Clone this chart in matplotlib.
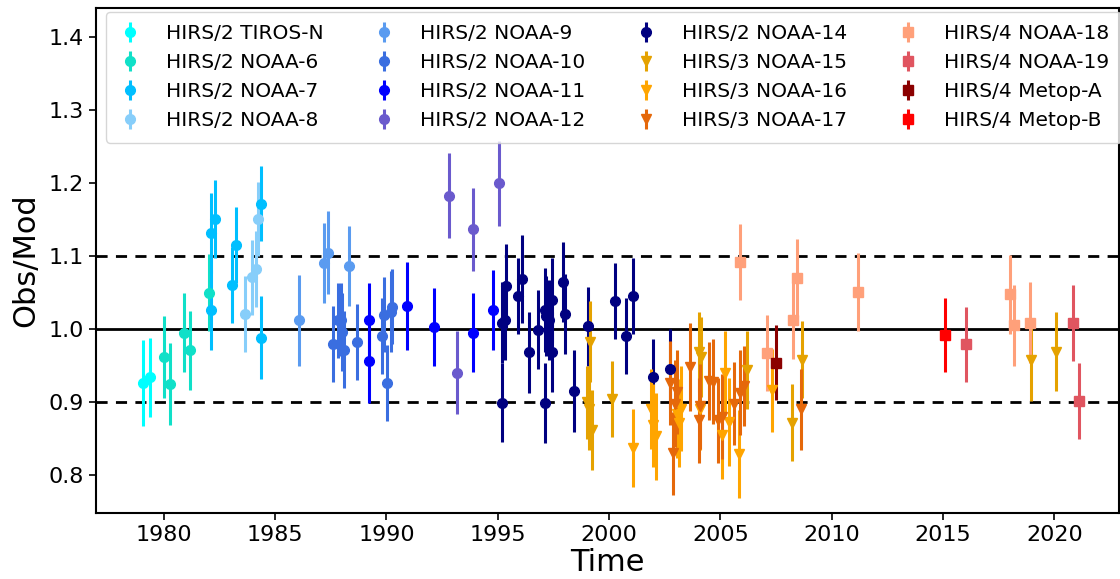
import matplotlib
matplotlib.use("Agg")
import matplotlib.pyplot as plt

# ---------------- data ----------------
tiros_x = [1979.04, 1979.37]
tiros_y = [0.926, 0.934]
tiros_e = [0.059, 0.054]

n6_x = [1980.0, 1980.27, 1980.9, 1981.17, 1982.03]
n6_y = [0.962, 0.925, 0.995, 0.971, 1.050]
n6_e = [0.056, 0.056, 0.054, 0.054, 0.053]

n7_x = [1982.1, 1982.28, 1982.1, 1983.07, 1983.25, 1984.37, 1984.37]
n7_y = [1.132, 1.151, 1.026, 1.061, 1.115, 1.172, 0.988]
n7_e = [0.055, 0.053, 0.055, 0.052, 0.052, 0.051, 0.057]

n8_x = [1983.65, 1983.98, 1984.16, 1984.22]
n8_y = [1.021, 1.071, 1.082, 1.151]
n8_e = [0.052, 0.051, 0.052, 0.051]

n9_x = [1986.06, 1987.2, 1987.36, 1988.32]
n9_y = [1.012, 1.091, 1.105, 1.087]
n9_e = [0.062, 0.055, 0.057, 0.055]

n10_x = [1987.6, 1987.8, 1987.95, 1988.0, 1988.1, 1988.67, 1989.78, 1989.9, 1990.03, 1990.2, 1990.24]
n10_y = [0.980, 1.012, 1.013, 0.996, 0.972, 0.982, 0.990, 1.020, 0.926, 1.024, 1.031]
n10_e = [0.052, 0.051, 0.050, 0.053, 0.053, 0.052, 0.052, 0.051, 0.052, 0.055, 0.052]

n11_x = [1989.2, 1989.2, 1990.9, 1992.12, 1993.89, 1994.79]
n11_y = [1.013, 0.957, 1.032, 1.003, 0.995, 1.026]
n11_e = [0.050, 0.058, 0.060, 0.054, 0.054, 0.055]

n12_x = [1992.8, 1993.18, 1993.9, 1995.04]
n12_y = [1.183, 0.940, 1.137, 1.200]
n12_e = [0.058, 0.057, 0.057, 0.058]

n14_x = [1995.19, 1995.19, 1995.34, 1995.36, 1995.91, 1996.09, 1996.39, 1996.81, 1997.12, 1997.12,
         1997.15, 1997.29, 1997.44, 1997.44, 1997.93, 1998.02, 1998.43, 1999.06, 2000.28, 2000.76,
         2001.09, 2001.97, 2002.72]
n14_y = [0.899, 1.009, 1.012, 1.059, 1.046, 1.069, 0.968, 0.999, 0.899, 1.026,
         1.018, 1.013, 1.040, 0.969, 1.065, 1.021, 0.915, 1.004, 1.038, 0.990,
         1.046, 0.934, 0.945]
n14_e = [0.054, 0.055, 0.054, 0.057, 0.052, 0.060, 0.055, 0.054, 0.055, 0.058,
         0.055, 0.055, 0.058, 0.055, 0.055, 0.055, 0.056, 0.054, 0.052, 0.052,
         0.052, 0.052, 0.055]

n15_x = [1999.15, 1999.0, 1999.08, 1999.24, 2000.13, 2004.04, 2004.15, 2006.2, 2008.21, 2008.68, 2018.96, 2020.08]
n15_y = [0.983, 0.900, 0.890, 0.862, 0.904, 0.969, 0.962, 0.944, 0.872, 0.958, 0.958, 0.969]
n15_e = [0.055, 0.050, 0.055, 0.055, 0.052, 0.055, 0.055, 0.054, 0.053, 0.053, 0.057, 0.054]

n16_x = [2001.07, 2001.87, 2001.97, 2002.12, 2003.14, 2003.24, 2003.05, 2004.08, 2005.05, 2005.22, 2005.38, 2005.82, 2007.31]
n16_y = [0.837, 0.891, 0.868, 0.853, 0.871, 0.891, 0.883, 0.890, 0.855, 0.940, 0.873, 0.829, 0.916]
n16_e = [0.054, 0.055, 0.057, 0.060, 0.060, 0.058, 0.060, 0.055, 0.060, 0.058, 0.060, 0.060, 0.057]

n17_x = [2002.72, 2002.89, 2002.95, 2003.03, 2003.62, 2004.04, 2004.08, 2004.5, 2004.68, 2004.9, 2005.05, 2005.63, 2005.87, 2006.05, 2008.63]
n17_y = [0.926, 0.830, 0.898, 0.914, 0.948, 0.875, 0.894, 0.929, 0.928, 0.875, 0.880, 0.898, 0.913, 0.922, 0.890]
n17_e = [0.058, 0.057, 0.060, 0.058, 0.060, 0.058, 0.058, 0.053, 0.058, 0.058, 0.058, 0.057, 0.058, 0.055, 0.055]

n18_x = [2005.87, 2007.09, 2008.26, 2008.43, 2011.18, 2017.99, 2018.21, 2018.89]
n18_y = [1.092, 0.967, 1.012, 1.070, 1.051, 1.048, 1.005, 1.009]
n18_e = [0.052, 0.052, 0.053, 0.053, 0.053, 0.054, 0.055, 0.055]

n19_x = [2016.01, 2020.83, 2021.13]
n19_y = [0.979, 1.009, 0.901]
n19_e = [0.052, 0.052, 0.052]

ma_x = [2007.5]
ma_y = [0.954]
ma_e = [0.051]

mb_x = [2015.07]
mb_y = [0.992]
mb_e = [0.051]

series = [
    ("HIRS/2 TIROS-N", tiros_x, tiros_y, tiros_e, "#00FFFF", "o"),
    ("HIRS/2 NOAA-6", n6_x, n6_y, n6_e, "#10E0C8", "o"),
    ("HIRS/2 NOAA-7", n7_x, n7_y, n7_e, "#00BFFF", "o"),
    ("HIRS/2 NOAA-8", n8_x, n8_y, n8_e, "#87CEFA", "o"),
    ("HIRS/2 NOAA-9", n9_x, n9_y, n9_e, "#5A9BF0", "o"),
    ("HIRS/2 NOAA-10", n10_x, n10_y, n10_e, "#3A6EE0", "o"),
    ("HIRS/2 NOAA-11", n11_x, n11_y, n11_e, "#0000FF", "o"),
    ("HIRS/2 NOAA-12", n12_x, n12_y, n12_e, "#6A5ACD", "o"),
    ("HIRS/2 NOAA-14", n14_x, n14_y, n14_e, "#000080", "o"),
    ("HIRS/3 NOAA-15", n15_x, n15_y, n15_e, "#E5A200", "v"),
    ("HIRS/3 NOAA-16", n16_x, n16_y, n16_e, "#FFA500", "v"),
    ("HIRS/3 NOAA-17", n17_x, n17_y, n17_e, "#E5680A", "v"),
    ("HIRS/4 NOAA-18", n18_x, n18_y, n18_e, "#FFA07A", "s"),
    ("HIRS/4 NOAA-19", n19_x, n19_y, n19_e, "#E05560", "s"),
    ("HIRS/4 Metop-A", ma_x, ma_y, ma_e, "#8B0000", "s"),
    ("HIRS/4 Metop-B", mb_x, mb_y, mb_e, "#FF0000", "s"),
]

# ---------------- figure ----------------
fig = plt.figure(figsize=(11.2, 5.79), dpi=100)
ax = fig.add_axes([0.0857, 0.114, 0.9133, 0.872])

ax.axhline(1.0, color="black", lw=2, zorder=1)
ax.axhline(1.1, color="black", lw=2, ls=(0, (4, 3)), zorder=1)
ax.axhline(0.9, color="black", lw=2, ls=(0, (4, 3)), zorder=1)

for label, xs, ys, es, col, mk in series:
    ax.errorbar(xs, ys, yerr=es, fmt=mk, color=col, ecolor=col,
                elinewidth=2.2, markersize=7, capsize=0, label=label, zorder=3)

ax.set_xlim(1976.95, 2022.9)
ax.set_ylim(0.748, 1.44)
ax.set_xticks([1980, 1985, 1990, 1995, 2000, 2005, 2010, 2015, 2020])
ax.set_yticks([0.8, 0.9, 1.0, 1.1, 1.2, 1.3, 1.4])
ax.set_yticklabels(["0.8", "0.9", "1.0", "1.1", "1.2", "1.3", "1.4"])
ax.tick_params(labelsize=16, width=1.2, length=5)
for sp in ax.spines.values():
    sp.set_linewidth(1.5)

ax.set_xlabel("Time", fontsize=22, labelpad=2)
ax.set_ylabel("Obs/Mod", fontsize=22, labelpad=6)

ax.legend(loc="upper center", bbox_to_anchor=(0.506, 0.992), borderaxespad=0,
          ncol=4, fontsize=14.5,
          handlelength=1.2, columnspacing=2.4, handletextpad=1.2,
          labelspacing=0.5, borderpad=0.6)

fig.savefig("out.png", dpi=100)
